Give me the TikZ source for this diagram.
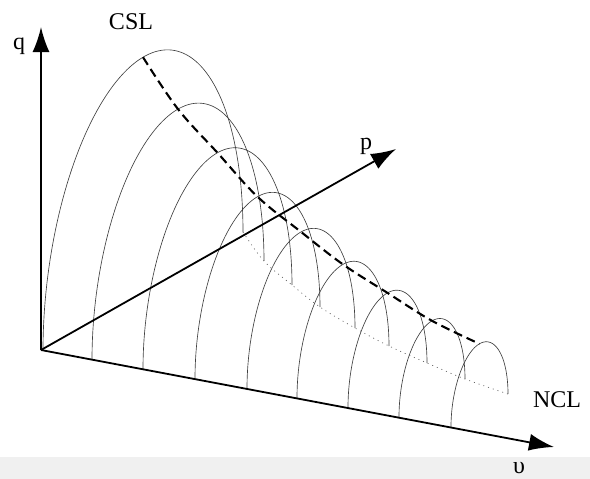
\documentclass[tikz,border=0pt]{standalone}
\usepackage{fontspec}
\setmainfont{Liberation Serif}
\usetikzlibrary{arrows.meta}
\newcommand{\csarc}[4]{\draw[arcline] plot[domain=180:0,samples=90,variable=\t] ({(#1+#3)/2+(#3-#1)/2*cos(\t)},{(#2+#4)/2+(#4-#2)/2*cos(\t)-1.17*(#3-#1)*sin(\t)});}
\tikzset{
  axis/.style={line width=1.8pt,-{Latex[length=25pt,width=17pt]}},
  arcline/.style={line width=0.65pt,draw=black!75},
  csl/.style={line width=2.1pt,dash pattern=on 9pt off 5pt},
  ncl/.style={line width=0.7pt,draw=black!60,dash pattern=on 1pt off 4pt},
  lbl/.style={font=\fontsize{24}{26}\selectfont,inner sep=0pt}
}
\begin{document}
\begin{tikzpicture}[x=1pt,y=-1pt]
\useasboundingbox (0,0) rectangle (590,479);
\fill[black!6] (0,457) rectangle (590,479);
% arcs
\csarc{43}{350.4}{243}{232}
\csarc{92}{359.6}{264}{261}
\csarc{143}{369.1}{292}{285}
\csarc{195}{378.9}{320}{307}
\csarc{247}{388.6}{355}{328}
\csarc{297}{398}{389}{346}
\csarc{348}{407.6}{427}{363}
\csarc{399}{417.1}{465}{379}
\csarc{451}{426.9}{508}{394}
% NCL projection (dotted)
\draw[ncl] plot[smooth,tension=0.6] coordinates {(243,232) (264,261) (292,285) (320,307) (355,328) (389,346) (427,363) (465,379) (508,394)};
% CSL (dashed)
\draw[csl] plot[smooth,tension=0.6] coordinates {(143,57.2) (178,109.1) (217.5,152.8) (257.5,196.7) (301,231.9) (343,264.4) (387.5,292.9) (432,320.8) (479.5,343.8)};
% axes
\coordinate (O) at (41,350);
\coordinate (qtip) at (41,27);
\coordinate (ptip) at (396,149);
\coordinate (vtip) at (554,447);
\draw[axis] (O) -- (qtip);
\draw[axis] (O) -- (ptip);
\draw[axis] (O) -- (vtip);
% labels
\node[lbl] (q) at (19,46) {q};
\node[lbl] (cslL) at (131,22) {CSL};
\node[lbl] (p) at (366,146) {p};
\node[lbl] (nclL) at (557,400) {NCL};
\node[lbl] (v) at (519,468) {υ};
\end{tikzpicture}
\end{document}
